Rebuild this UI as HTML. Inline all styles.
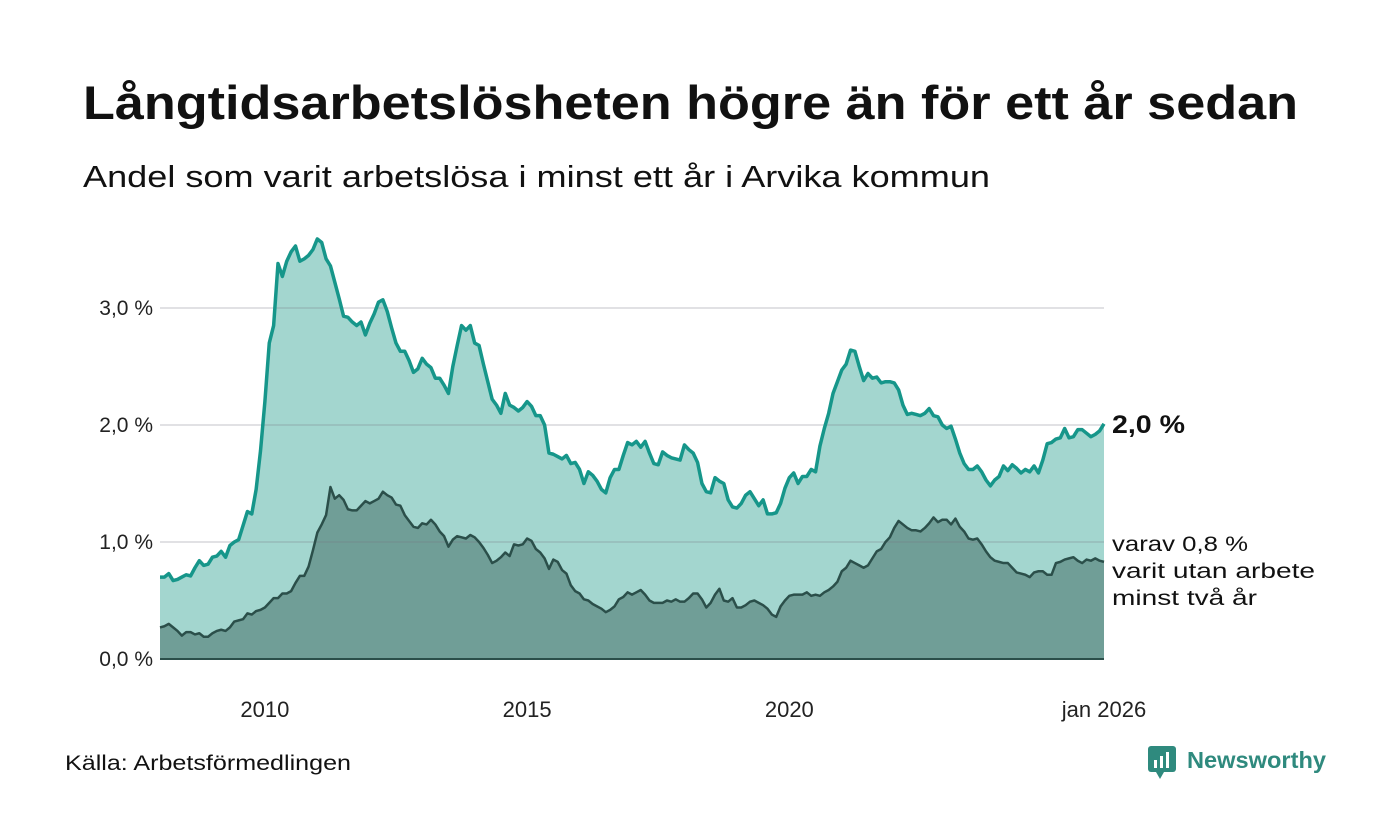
<!DOCTYPE html>
<html><head><meta charset="utf-8"><style>
body{margin:0;background:#fff;font-family:"Liberation Sans","DejaVu Sans",sans-serif;}
#c{position:relative;width:1400px;height:840px;overflow:hidden;}
</style></head><body>
<div id="c">
<svg id="s" width="1400" height="840">
<text x="83" y="119" font-size="47" font-weight="bold" fill="#111" textLength="1215" lengthAdjust="spacingAndGlyphs">Långtidsarbetslösheten högre än för ett år sedan</text>
<text x="83" y="187" font-size="31" fill="#111" textLength="907" lengthAdjust="spacingAndGlyphs">Andel som varit arbetslösa i minst ett år i Arvika kommun</text>
<g id="plot"></g>
<text x="1112" y="433" font-size="25" font-weight="bold" fill="#111" textLength="73" lengthAdjust="spacingAndGlyphs">2,0 %</text>
<text font-size="21" fill="#111"><tspan x="1112" y="551" textLength="136" lengthAdjust="spacingAndGlyphs">varav 0,8 %</tspan><tspan x="1112" y="578" textLength="203" lengthAdjust="spacingAndGlyphs">varit utan arbete</tspan><tspan x="1112" y="605" textLength="145" lengthAdjust="spacingAndGlyphs">minst två år</tspan></text>
<text x="65" y="770" font-size="21" fill="#111" textLength="286" lengthAdjust="spacingAndGlyphs">Källa: Arbetsförmedlingen</text>
<g>
<rect x="1148" y="746" width="28" height="26" rx="3" fill="#2f8a7e"/>
<polygon points="1156,772 1164,772 1160,779" fill="#2f8a7e"/>
<rect x="1154" y="760" width="3" height="8" fill="#fff"/><rect x="1160" y="756" width="3" height="12" fill="#fff"/><rect x="1166" y="752" width="3" height="16" fill="#fff"/>
<text x="1187" y="768" font-size="23" font-weight="bold" fill="#2f8a7e" textLength="139" lengthAdjust="spacingAndGlyphs">Newsworthy</text>
</g>
</svg>
</div>
<script>
const yTickValues=[0,1,2,3];
const yTickLabels=["0,0 %","1,0 %","2,0 %","3,0 %"];
const xTickMonths=[24,84,144,216];
const xTickLabels=["2010","2015","2020","jan 2026"];
const totalValues=[
0.70,0.70,0.73,0.67,0.68,0.70,0.72,0.71,0.78,0.84,0.80,0.81,
0.87,0.88,0.92,0.87,0.97,1.00,1.02,1.14,1.26,1.24,1.45,1.78,
2.20,2.70,2.85,3.38,3.27,3.40,3.48,3.53,3.40,3.42,3.45,3.50,
3.59,3.56,3.42,3.36,3.22,3.08,2.93,2.92,2.88,2.85,2.88,2.77,2.87,
2.95,3.05,3.07,2.97,2.83,2.70,2.63,2.63,2.55,2.45,2.48,2.57,
2.52,2.49,2.40,2.40,2.34,2.27,2.50,2.68,2.85,2.81,2.85,2.70,
2.68,2.52,2.37,2.22,2.17,2.10,2.27,2.17,2.15,2.12,2.15,2.20,
2.16,2.08,2.08,2.00,1.76,1.75,1.73,1.71,1.74,1.67,1.68,1.62,
1.50,1.60,1.57,1.52,1.45,1.42,1.55,1.62,1.62,1.74,1.85,1.83,
1.86,1.81,1.86,1.76,1.67,1.66,1.77,1.74,1.72,1.71,1.70,1.83,
1.79,1.76,1.68,1.50,1.43,1.42,1.55,1.52,1.50,1.36,1.30,1.29,
1.33,1.40,1.43,1.37,1.31,1.36,1.24,1.24,1.25,1.33,1.46,1.55,
1.59,1.50,1.56,1.56,1.62,1.60,1.82,1.97,2.10,2.27,2.37,2.47,
2.52,2.64,2.63,2.50,2.38,2.44,2.40,2.41,2.36,2.37,2.37,2.36,
2.30,2.17,2.09,2.10,2.09,2.08,2.10,2.14,2.08,2.07,2.00,1.97,
1.99,1.88,1.76,1.67,1.62,1.62,1.65,1.60,1.53,1.48,1.53,1.56,
1.65,1.61,1.66,1.63,1.59,1.62,1.60,1.65,1.59,1.70,1.84,1.85,
1.88,1.89,1.97,1.89,1.90,1.96,1.96,1.93,1.90,1.92,1.95,2.01];
const longValues=[
0.27,0.28,0.30,0.27,0.24,0.20,0.23,0.23,0.21,0.22,0.19,0.19,
0.22,0.24,0.25,0.24,0.27,0.32,0.33,0.34,0.39,0.38,0.41,0.42,
0.44,0.48,0.52,0.52,0.56,0.56,0.58,0.65,0.71,0.71,0.79,0.93,
1.08,1.15,1.23,1.47,1.37,1.40,1.36,1.28,1.27,1.27,1.31,1.35,
1.33,1.35,1.37,1.43,1.40,1.38,1.32,1.31,1.23,1.18,1.13,1.12,
1.16,1.15,1.19,1.15,1.09,1.05,0.96,1.02,1.05,1.04,1.03,1.06,
1.04,1.00,0.95,0.89,0.82,0.84,0.87,0.91,0.88,0.98,0.97,0.98,
1.03,1.01,0.94,0.91,0.86,0.77,0.85,0.83,0.76,0.73,0.63,0.58,
0.56,0.51,0.50,0.47,0.45,0.43,0.40,0.42,0.45,0.51,0.53,0.57,
0.55,0.57,0.59,0.55,0.50,0.48,0.48,0.48,0.50,0.49,0.51,0.49,
0.49,0.52,0.56,0.56,0.51,0.44,0.48,0.55,0.60,0.50,0.49,0.52,
0.44,0.44,0.46,0.49,0.50,0.48,0.46,0.43,0.38,0.36,0.45,0.50,
0.54,0.55,0.55,0.55,0.57,0.54,0.55,0.54,0.57,0.59,0.62,0.66,
0.75,0.78,0.84,0.82,0.80,0.78,0.80,0.86,0.92,0.94,1.00,1.04,
1.12,1.18,1.15,1.12,1.10,1.10,1.09,1.12,1.16,1.21,1.17,1.19,
1.19,1.15,1.20,1.13,1.09,1.03,1.02,1.03,0.98,0.92,0.87,0.84,
0.83,0.82,0.82,0.78,0.74,0.73,0.72,0.70,0.74,0.75,0.75,0.72,
0.72,0.82,0.83,0.85,0.86,0.87,0.84,0.82,0.85,0.84,0.86,0.84,
0.83];
const X0=160,X1=1104,Y0=659,PX=117;
const N=217;
function xs(i){return X0+(X1-X0)*i/(N-1);}
function ys(v){return Y0-v*PX;}
const g=document.getElementById('plot');
const NS='http://www.w3.org/2000/svg';
function mk(t,a){const e=document.createElementNS(NS,t);for(const k in a)e.setAttribute(k,a[k]);g.appendChild(e);return e;}
function line(arr){return arr.map((v,i)=>(i?'L':'M')+xs(i).toFixed(2)+','+ys(v).toFixed(2)).join('');}
function area(arr){return line(arr)+'L'+xs(arr.length-1).toFixed(2)+','+Y0+'L'+X0+','+Y0+'Z';}
let e;
e=mk('path',{d:area(totalValues),fill:'#a3d6cf'});


e=mk('path',{d:area(longValues),fill:'#709e97'});


yTickValues.forEach((v,i)=>{
  if(v>0){
    e=mk('line',{x1:X0,x2:X1,y1:ys(v),y2:ys(v),stroke:'rgba(120,120,130,0.22)','stroke-width':2});
    
    
  }
  e=mk('text',{x:153,y:ys(v)+7,'text-anchor':'end','font-size':21,fill:'#222'});
  e.textContent=yTickLabels[i];
  
  
});
e=mk('path',{d:line(longValues),fill:'none',stroke:'#2b4f4a','stroke-width':2.5,'stroke-linejoin':'round'});


e=mk('path',{d:line(totalValues),fill:'none',stroke:'#16968a','stroke-width':3.5,'stroke-linejoin':'round'});


e=mk('line',{x1:X0,x2:X1,y1:Y0,y2:Y0,stroke:'#2b4f4a','stroke-width':2});


xTickMonths.forEach((m,i)=>{
  e=mk('text',{x:xs(m),y:717,'text-anchor':'middle','font-size':22,fill:'#222'});
  e.textContent=xTickLabels[i];
  
  
});
</script>
</body></html>
